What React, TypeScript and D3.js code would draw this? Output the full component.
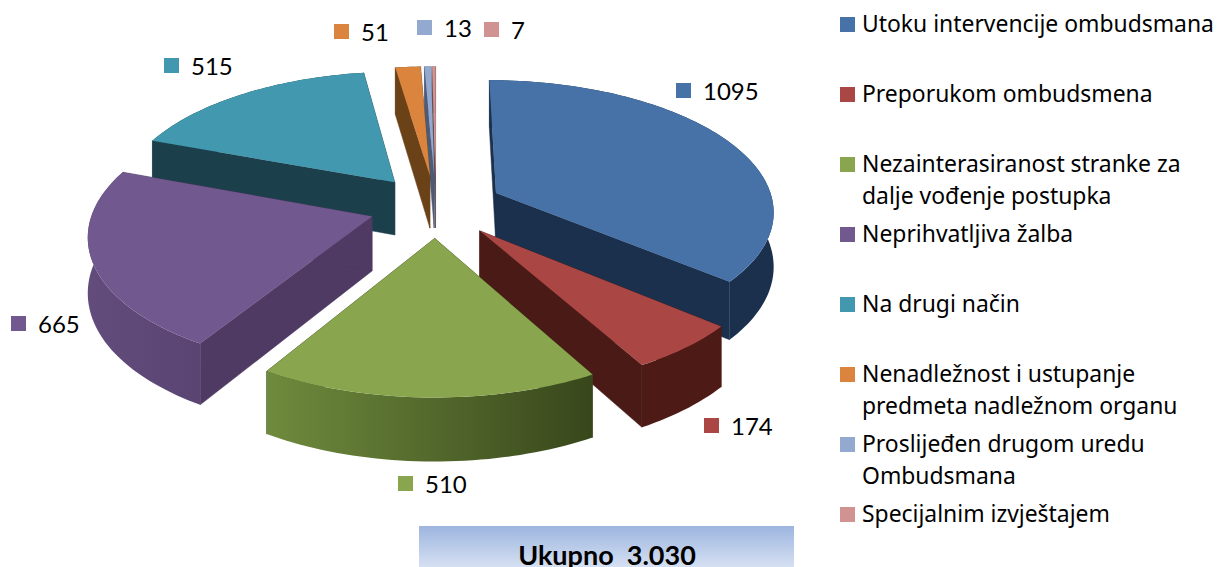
import * as React from "react";
import * as d3 from "d3";

const categories = [
  "Utoku intervencije ombudsmana",
  "Preporukom ombudsmena",
  "Nezainteresiranost",
  "Neprihvatljiva žalba",
  "Na drugi način",
  "Nenadležnost",
  "Proslijeđen",
  "Specijalnim izvještajem",
];
const values = [1095, 174, 510, 665, 515, 51, 13, 7];
const legendLines = [
  ["Utoku intervencije ombudsmana"],
  ["Preporukom ombudsmena"],
  ["Nezainterasiranost stranke za", "dalje vođenje postupka"],
  ["Neprihvatljiva žalba"],
  ["Na drugi način"],
  ["Nenadležnost i ustupanje", "predmeta nadležnom organu"],
  ["Proslijeđen drugom uredu", "Ombudsmana"],
  ["Specijalnim izvještajem"],
];
const totalLabel = "Ukupno  3.030";

const topColors = ["#4672a8", "#aa4643", "#89a54e", "#71588f", "#4198af", "#db843d", "#93a9cf", "#d19392"];
const rimLeft = ["#1b304d", "#4d1a16", "#6f8b3d", "#624c7c", "#1c3f4c", "#6b4218", "#4d5b78", "#6b4b4b"];
const rimRight = ["#1b304d", "#4d1a16", "#38471b", "#5a4472", "#1c3f4c", "#6b4218", "#4d5b78", "#6b4b4b"];
const wallColors = ["#1b304d", "#4a1a16", "#38471b", "#4e3a63", "#1c3f4c", "#6b4218", "#4d5b78", "#6b4b4b"];

// swatch corner of each value label
const labelSpots = [
  [676, 83],
  [704, 418],
  [398, 476],
  [11, 316],
  [164, 58],
  [334, 24],
  [417, 20],
  [484, 22],
];
const legendTops = [17, 87, 157, 227, 297, 367, 437, 507];

const cx = 436;
const cy = 206;
const radius = 278;
const explode = 67;
const thickness = 54;
const tilt = 0.468;
const perspective = 2200;

function project(x: number, z: number, h = 0): [number, number] {
  const s = 1 / (1 + z / perspective);
  return [cx + x * s, cy - z * tilt * s + h * s];
}

export default function App() {
  const slices = d3
    .pie<number>()
    .sort(null)
    .value((d) => d)(values);

  const path = d3.line();

  const shapes = slices
    .map((slice) => {
      const mid = (slice.startAngle + slice.endAngle) / 2;
      const ox = explode * Math.sin(mid);
      const oz = explode * Math.cos(mid);
      const steps = Math.max(2, Math.ceil((slice.endAngle - slice.startAngle) * 40));
      const angles = d3.range(steps + 1).map((i) => slice.startAngle + ((slice.endAngle - slice.startAngle) * i) / steps);
      const rimPoint = (a: number, h = 0) =>
        project(ox + radius * Math.sin(a), oz + radius * Math.cos(a), h);
      const apex = project(ox, oz);
      const apexLow = project(ox, oz, thickness);
      const top = angles.map((a) => rimPoint(a));
      const low = angles.map((a) => rimPoint(a, thickness));
      return { i: slice.index, mid, apex, apexLow, top, low };
    })
    .sort((a, b) => Math.cos(b.mid) - Math.cos(a.mid));

  return (
    <svg width={1217} height={567} style={{ position: "absolute", left: 0, top: 0 }} fontFamily="Noto Sans">
      <defs>
        <linearGradient id="total" x1="0" y1="0" x2="0" y2="1">
          <stop offset="0" stopColor="#9db5df" />
          <stop offset="1" stopColor="#d5e0f2" />
        </linearGradient>
        {shapes.map((d) => {
          const xs = d.top.map((p) => p[0]);
          return (
            <linearGradient
              key={d.i}
              id={`rim${d.i}`}
              gradientUnits="userSpaceOnUse"
              x1={d3.min(xs)}
              y1={0}
              x2={d3.max(xs)}
              y2={0}
            >
              <stop offset="0" stopColor={rimLeft[d.i]} />
              <stop offset="1" stopColor={rimRight[d.i]} />
            </linearGradient>
          );
        })}
      </defs>

      {shapes.map((d) => {
        const first = d.top[0];
        const last = d.top[d.top.length - 1];
        const firstLow = d.low[0];
        const lastLow = d.low[d.low.length - 1];
        return (
          <g key={d.i}>
            <path d={path([d.apex, first, firstLow, d.apexLow])! + "Z"} fill={wallColors[d.i]} stroke={wallColors[d.i]} strokeWidth={0.5} />
            <path d={path([d.apex, last, lastLow, d.apexLow])! + "Z"} fill={wallColors[d.i]} stroke={wallColors[d.i]} strokeWidth={0.5} />
            <path d={path([...d.top, ...[...d.low].reverse()])! + "Z"} fill={`url(#rim${d.i})`} />
            <path d={path([d.apex, ...d.top])! + "Z"} fill={topColors[d.i]} />
          </g>
        );
      })}

      {values.map((v, i) => (
        <g key={categories[i]} transform={`translate(${labelSpots[i][0]},${labelSpots[i][1]})`}>
          <rect width={15} height={15} fill={topColors[i]} />
          <text x={27} y={17} fontSize={24} fontFamily="Lato" fill="#000">
            {v}
          </text>
        </g>
      ))}

      {legendLines.map((lines, i) => (
        <g key={i} transform={`translate(840,${legendTops[i]})`}>
          <rect width={15} height={15} fill={topColors[i]} />
          {lines.map((line, j) => (
            <text key={line} x={22} y={15 + j * 32} fontSize={22.9} fill="#000">
              {line}
            </text>
          ))}
        </g>
      ))}

      <rect x={419} y={526} width={375} height={41} fill="url(#total)" />
      <text x={607} y={565} textAnchor="middle" fontSize={27} fontFamily="Lato" fontWeight={700} fill="#000" xmlSpace="preserve">
        {totalLabel}
      </text>
    </svg>
  );
}
